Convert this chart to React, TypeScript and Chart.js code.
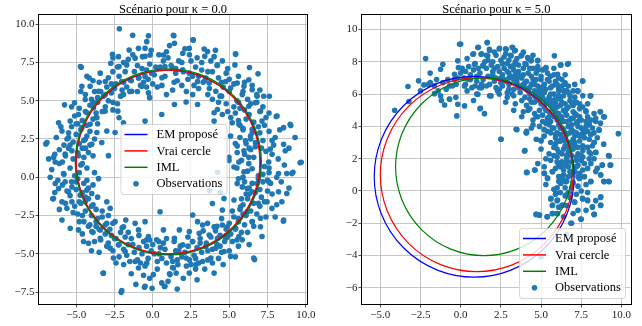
import React, { useEffect, useRef } from "react";
import { Chart, registerables } from "chart.js";
Chart.register(...registerables);

// ---------- data ----------
const seriesLabels = ["EM proposé", "Vrai cercle", "IML", "Observations"];
const lineColors = ["#0000ff", "#ff0000", "#008000"];
const pointColor = "#1f77b4";

const titleK0 = "Scénario pour κ = 0.0";
const titleK5 = "Scénario pour κ = 5.0";

// circles [cx, cy, r] : EM proposé, Vrai cercle, IML
const circlesK0 = [
  [1.02, 0.98, 6.02],
  [1.0, 1.0, 6.0],
  [1.02, 1.0, 6.08],
];
const circlesK5 = [
  [0.84, 0.88, 6.22],
  [1.0, 1.0, 6.0],
  [1.45, 1.5, 5.5],
];

const xTicksK0 = [-5, -2.5, 0, 2.5, 5, 7.5, 10];
const yTicksK0 = [-7.5, -5, -2.5, 0, 2.5, 5, 7.5, 10];
const xTicksK5 = [-5, -2.5, 0, 2.5, 5, 7.5, 10];
const yTicksK5 = [-6, -4, -2, 0, 2, 4, 6, 8, 10];

const xRangeK0 = [-7.43, 10.08];
const yRangeK0 = [-8.28, 10.6];
const xRangeK5 = [-6.14, 10.58];
const yRangeK5 = [-7.0, 10.9];

const obsK0: number[][] = [
  [-2.18,9.7],[1.35,9.28],[2.63,8.98],[-1.31,9.28],[-4.72,7.24],[-5.76,4.73],[-6.98,2.18],[9.7,0.98],[9.02,3.38],[8.07,3.97],[5.41,8.07],
  [-6.53,-1.41],[-2.06,-7.52],[-0.54,-7.19],[-0.04,-7.25],[0.76,-7.14],[-3.24,-6.27],[6.65,-5.38],[8.54,-2.87],[9.16,0.33],
  [-0.39,8.86],[-0.28,9.24],[-1.54,8.31],[-0.93,8.42],[-0.5,8.42],[-2.63,8.03],[-2.24,7.88],[-2.74,7.45],[-2.2,7.24],[-1.7,7.34],[-1.15,7.78],[-0.67,7.88],[-0.17,7.99],[0.7,7.99],[0.37,7.13],[0.8,7.24],[-4.67,7.19],[-4.15,6.48],[-3.43,6.8],[-3.1,6.26],[-4.63,5.94],[-4.09,5.94],[-3.54,5.62],[-3.22,5.29],[-2.57,6.05],[-2.02,6.26],[-1.48,6.37],[-0.93,6.48],[-0.5,6.59],[-0.07,6.8],[-0.72,5.94],[-1.37,5.62],[-0.28,5.51],[-1.91,5.4],[-5.11,4.86],[-4.41,5.08],[-3.87,4.54],[-4.85,4.1],[-4.3,4.21],[-3.65,3.89],[-3.11,4.32],[-2.28,4.32],[-2.2,3.89],[-1.91,3.56],[-0.5,3.67],[0.59,4.1],[-6.15,3.56],[-5.39,3.67],[-4.63,3.24],[-4.09,3.46],[-3.65,2.92],[-3.0,3.02],[-2.46,2.92],[-6.91,2.27],[-5.93,3.02],[-5.5,2.59],[-4.41,2.48],[-3.98,2.16],[-3.33,2.27],[-6.48,1.3],[-5.72,1.51],[-5.28,1.73],[-4.85,1.41],[-4.2,1.62],[-2.89,1.41],
  [1.38,9.24],[2.65,8.96],[1.42,8.75],[2.39,8.42],[3.36,8.38],[3.58,8.21],[4.01,7.88],[5.42,8.03],[4.55,7.6],[4.23,7.34],[5.37,7.34],[6.32,7.17],[6.88,6.76],[1.31,7.13],[1.96,8.1],[1.96,7.02],[2.39,6.8],[2.93,6.26],[3.47,6.48],[3.69,6.16],[4.12,5.62],[4.77,6.26],[5.09,5.83],[5.52,6.16],[5.96,5.94],[6.28,6.37],[5.85,5.4],[6.5,5.72],[6.82,5.29],[7.25,5.29],[7.62,5.29],[6.71,4.86],[6.28,4.64],[7.04,4.32],[8.12,4.0],[7.14,3.67],[8.98,3.46],[8.55,3.24],[6.5,3.13],[5.63,3.46],[5.2,3.56],[4.01,3.67],[4.01,4.21],[4.23,4.43],[4.55,4.1],[2.93,4.75],[2.18,4.92],[2.61,5.4],[1.42,4.75],[6.39,2.7],[6.06,2.38],[6.71,2.27],[5.09,2.7],[5.52,2.05],[5.52,1.62],[5.96,1.73],[8.55,2.16],[8.66,1.73],[7.68,1.84],[4.98,1.3],[6.28,1.3],
  [-6.37,1.0],[-5.83,0.24],[-6.37,-0.41],[-6.15,-0.74],[-5.72,-0.3],[-5.28,-0.63],[-5.5,-0.95],[-6.48,-1.39],[-5.93,-1.6],[-5.61,-2.03],[-5.28,-1.6],[-4.74,-1.17],[-4.3,-0.84],[-4.41,-1.6],[-3.98,-1.06],[-3.54,-0.09],[-3.0,-1.6],[-2.78,-2.03],[-5.93,-2.79],[-5.39,-3.33],[-4.85,-3.44],[-4.52,-4.2],[-4.2,-4.31],[-3.98,-3.55],[-3.43,-3.44],[-3.43,-3.98],[-3.11,-3.12],[-2.46,-2.9],[-1.91,-3.23],[-1.76,-2.79],[-1.15,-3.01],[-0.5,-2.9],[-0.93,-3.44],[-2.24,-4.42],[-2.78,-4.63],[-2.57,-5.28],[-3.22,-6.26],[-1.8,-4.85],[-1.15,-5.5],[-0.93,-5.93],[-0.39,-5.61],[-0.5,-7.12],[-2.02,-7.4],[0.48,-2.25],[0.59,-6.9],[0.8,-7.12],[1.13,-6.36],[1.35,-5.93],[0.04,-6.36],[-0.39,-4.09],[0.26,-4.09],[-0.28,-3.87],[0.7,-3.44],
  [4.98,1.1],[5.31,0.67],[5.63,1.0],[5.96,0.35],[6.28,0.89],[6.5,0.56],[7.58,1.0],[8.22,0.24],[8.76,0.24],[9.09,0.24],[9.63,0.95],[5.52,-0.41],[5.85,-0.63],[6.17,-0.74],[6.5,-0.95],[6.82,-0.41],[7.58,-0.3],[8.22,-0.95],[8.76,-1.06],[7.47,-1.6],[8.44,-1.6],[7.79,-2.03],[8.55,-2.79],[7.04,-2.68],[7.04,-3.23],[7.14,-3.87],[6.5,-2.9],[6.17,-2.25],[5.74,-1.93],[5.31,-1.49],[4.66,-1.39],[4.55,-2.14],[3.9,-1.71],[2.61,-2.47],[2.93,-2.9],[3.26,-3.12],[3.58,-3.01],[4.01,-3.23],[4.55,-3.12],[4.88,-3.23],[5.42,-3.33],[5.63,-3.87],[5.85,-4.09],[5.2,-4.2],[4.77,-3.98],[4.23,-3.98],[3.69,-3.77],[3.04,-3.66],[2.39,-3.55],[1.74,-3.44],[1.42,-3.98],[1.96,-4.42],[2.61,-4.2],[3.47,-4.52],[4.12,-4.63],[4.66,-4.85],[5.09,-5.17],[6.6,-5.28],[3.8,-5.28],[3.26,-5.5],[2.82,-5.71],[2.39,-6.26],[4.01,-6.26],[1.64,-5.71],[1.53,-6.26],[2.18,-5.28],
  [4.24,0.33],[3.71,-0.87],[4.41,-0.98],
  [6.2,0.4],[6.6,1.3],[7.3,0.7],[7.8,1.5],[5.8,1.1],[6.9,0.1],[7.5,-0.2],[8.2,1.2],[6.4,1.8],[7.1,1.9],[5.5,0.6],[8.6,0.8],
  [6.1,2.2],[6.5,2.9],[7.2,2.4],[7.6,3.0],[5.7,2.6],[6.9,3.3],[8.0,2.6],[6.3,1.9],[7.4,1.7],[5.9,3.1],
  [5.6,3.7],[6.0,4.4],[6.6,3.6],[7.0,4.3],[5.4,4.2],[6.4,4.8],[7.4,3.9],[5.9,3.2],[6.8,4.9],[5.1,3.9],
  [4.8,4.8],[5.5,5.0],[5.0,5.6],[5.9,5.6],[4.5,5.3],[5.3,6.1],[6.2,5.1],[4.9,4.3],[5.7,4.5],[6.0,6.2],
  [3.7,5.8],[4.3,6.5],[3.9,6.9],[4.6,5.9],[3.4,6.3],[4.2,7.3],[4.8,6.8],[3.6,5.4],[4.4,5.3],[3.2,7.0],
  [2.3,6.4],[2.8,7.2],[2.5,7.6],[3.0,6.6],[2.0,6.9],[2.7,6.0],[3.2,7.5],[1.9,7.5],[2.4,8.0],[3.3,6.2],
  [0.8,6.6],[1.2,7.3],[1.5,6.8],[0.5,7.2],[1.0,7.8],[1.4,6.2],[0.6,6.0],[1.7,7.6],[0.9,8.2],[1.3,5.7],
  [-0.3,6.4],[-0.7,7.1],[-0.2,7.4],[-0.9,6.5],[-0.5,7.9],[0.1,6.7],[-1.0,7.3],[-0.4,5.9],[0.2,7.2],[-0.8,6.0],
  [-1.7,5.9],[-2.2,6.6],[-1.8,6.9],[-2.5,5.8],[-1.4,6.3],[-2.1,5.3],[-2.6,6.9],[-1.5,5.6],[-1.9,7.5],[-2.4,6.1],
  [-2.9,5.0],[-3.4,5.6],[-3.0,5.9],[-3.6,4.9],[-2.7,5.5],[-3.8,5.6],[-3.1,4.6],[-2.6,4.9],[-3.5,6.2],[-4.0,5.1],
  [-3.9,3.8],[-4.4,4.3],[-4.1,4.7],[-4.6,3.7],[-3.7,4.2],[-4.8,4.5],[-3.6,3.5],[-4.3,3.4],[-5.1,4.0],[-3.9,4.9],
  [-4.5,2.4],[-5.0,2.8],[-4.7,3.1],[-5.2,2.3],[-4.3,2.7],[-5.5,2.9],[-4.6,1.9],[-5.3,3.3],[-4.1,2.1],[-5.8,2.1],
  [-4.7,0.8],[-5.2,1.2],[-4.9,1.6],[-5.4,0.6],[-4.5,1.3],[-5.7,1.4],[-4.8,0.3],[-5.5,1.9],[-4.3,0.6],[-6.1,0.9],[-5.1,0.1],[-6.4,1.5],
  [-4.5,-0.4],[-5.0,-0.8],[-4.6,-1.0],[-5.3,-0.3],[-4.2,-0.7],[-5.6,-0.9],[-4.9,-0.1],[-5.8,0.2],[-4.4,-1.3],[-6.2,-0.2],
  [-3.9,-1.8],[-4.4,-2.2],[-4.0,-2.5],[-4.7,-1.7],[-3.7,-2.1],[-4.9,-2.4],[-4.2,-1.4],[-3.6,-2.7],[-5.1,-1.9],[-4.5,-2.9],
  [-3.0,-3.0],[-3.5,-3.4],[-3.1,-3.7],[-3.7,-2.9],[-2.8,-3.4],[-3.9,-3.6],[-3.3,-2.6],[-2.7,-3.8],[-4.1,-3.1],[-3.4,-4.1],
  [-1.8,-3.9],[-2.2,-4.4],[-1.9,-4.7],[-2.5,-4.0],[-1.6,-4.4],[-2.6,-4.8],[-2.1,-3.6],[-1.4,-4.0],[-2.9,-4.3],[-1.7,-5.1],
  [-0.4,-4.5],[-0.7,-5.0],[-0.3,-5.3],[-0.9,-4.6],[-0.1,-4.8],[-1.0,-5.4],[-0.6,-4.2],[0.0,-4.4],[-1.2,-4.9],[-0.5,-5.8],
  [0.8,-4.7],[1.2,-5.2],[0.9,-5.6],[1.5,-4.8],[0.4,-5.0],[1.3,-5.9],[0.7,-4.3],[1.6,-5.4],[0.3,-5.5],[1.1,-6.3],[0.5,-4.6],[1.8,-4.5],
  [2.3,-4.5],[2.7,-5.1],[2.4,-5.4],[2.9,-4.6],[2.1,-4.9],[3.0,-5.6],[2.6,-4.2],[3.2,-4.9],[2.2,-5.8],[2.8,-6.0],
  [3.8,-3.9],[4.2,-4.4],[3.9,-4.7],[4.4,-3.8],[3.5,-4.3],[4.5,-4.9],[4.1,-3.5],[3.6,-4.8],[4.7,-4.2],[4.3,-5.3],
  [5.0,-3.0],[5.4,-3.4],[5.1,-3.7],[5.6,-2.9],[4.8,-3.4],[5.8,-3.6],[5.3,-2.6],[4.9,-3.9],[6.0,-3.1],[5.5,-4.1],
  [5.9,-1.8],[6.4,-2.2],[6.1,-2.5],[6.6,-1.7],[5.7,-2.1],[6.8,-2.4],[6.2,-1.4],[5.6,-2.7],[7.0,-1.9],[6.5,-2.9],
  [6.5,-0.4],[7.0,-0.8],[6.7,-1.0],[7.2,-0.3],[6.3,-0.7],[7.5,-0.9],[6.9,-0.1],[6.1,-1.1],[7.7,-0.4],[7.1,-1.3],
  [7.9,2.1],[8.3,3.1],[7.0,2.9],[6.0,1.5],[7.6,0.3],[8.9,1.9],[5.4,2.2],[6.7,2.0],[7.3,3.4],[8.1,0.0],[5.9,0.0],[6.4,2.5],[7.8,2.4],[5.7,3.4],[9.3,2.6],
  [6.8,5.4],[7.2,4.6],[5.6,4.9],[6.1,3.8],[5.0,6.4],[4.3,4.9],[6.5,6.0],[7.6,4.2],[4.9,7.1],[5.6,6.6],[5.3,4.6],[3.9,5.1],[7.0,5.7],[6.3,4.1],[4.5,6.2],
  [3.4,7.9],[2.1,8.4],[3.0,5.8],[1.6,6.3],[2.6,6.6],[3.8,7.6],[1.1,8.6],[1.9,6.0],[2.9,7.8],[0.7,7.6],[3.6,6.9],[2.2,5.6],[1.5,7.1],[4.1,8.3],[0.9,5.4],
  [-0.1,8.3],[-1.2,6.9],[-0.6,6.2],[0.3,5.9],[-1.6,7.7],[-0.4,7.0],[0.4,8.0],[-2.3,7.2],[-1.0,5.6],[0.0,6.1],[-1.9,6.2],[-0.2,5.2],[-1.3,8.0],[-2.6,7.8],[0.6,6.5],
  [-2.9,6.5],[-3.3,4.3],[-2.3,4.8],[-3.9,6.3],[-4.4,5.4],[-2.7,6.1],[-3.6,5.2],[-4.3,6.6],[-2.0,5.7],[-3.1,5.4],[-4.7,5.6],[-2.6,4.4],[-3.7,3.9],[-4.9,3.5],[-5.3,4.6],
  [-5.6,2.5],[-6.0,3.3],[-4.4,1.9],[-5.0,3.5],[-6.3,2.6],[-4.1,3.0],[-5.9,1.0],[-4.6,0.9],[-6.6,0.5],[-3.9,1.4],[-5.4,2.1],[-6.1,1.8],[-4.8,2.2],[-3.8,2.5],[-6.8,1.2],
  [-5.0,-0.3],[-5.9,-0.5],[-4.3,-0.2],[-6.4,-1.0],[-4.8,-1.6],[-5.4,-1.2],[-3.9,-0.5],[-6.7,0.0],[-4.0,-1.9],[-5.7,-1.7],[-3.8,0.3],[-5.2,-2.3],[-6.1,-2.1],[-4.6,-2.5],[-3.6,-1.3],
  [-3.3,-2.2],[-4.2,-3.2],[-2.6,-3.0],[-3.8,-4.2],[-2.4,-4.0],[-3.0,-4.5],[-4.6,-3.7],[-2.9,-2.5],[-3.7,-3.2],[-2.0,-3.3],[-3.5,-4.9],[-4.8,-2.9],[-2.2,-5.2],[-4.0,-4.8],[-1.6,-3.6],
  [-1.3,-4.4],[-0.8,-5.6],[-1.5,-5.5],[-0.2,-4.1],[0.3,-6.0],[-0.9,-3.8],[-0.2,-6.6],[-1.9,-5.7],[0.6,-5.3],[-0.6,-6.4],[0.1,-5.0],[-1.4,-6.3],[0.4,-4.2],[-2.4,-5.6],[-1.1,-7.0],
  [1.4,-4.2],[1.9,-5.2],[2.5,-5.7],[1.0,-6.8],[2.0,-6.6],[3.1,-4.3],[1.7,-4.8],[2.8,-5.3],[1.3,-5.5],[3.4,-6.0],[2.3,-3.9],[0.9,-4.0],[3.6,-5.4],[2.9,-6.7],[1.6,-7.3],
  [4.4,-4.5],[3.9,-5.6],[4.8,-3.8],[5.0,-4.8],[4.2,-3.2],[5.6,-4.5],[3.3,-3.5],[4.6,-5.7],[5.9,-2.4],[5.2,-2.2],[4.5,-2.7],[6.2,-3.6],[5.4,-5.2],[3.1,-4.0],[6.3,-4.4],
  [6.3,-1.1],[7.3,-1.6],[7.8,-1.1],[6.0,-0.3],[7.4,-2.6],[5.8,-1.4],[8.1,-1.8],[6.9,-1.7],[8.4,-0.3],[7.6,0.6],[5.6,-0.1],[6.6,-3.2],[8.0,-2.6],[7.2,0.2],[8.9,-0.7],
];

const obsK5: number[][] = [
  [-0.07,9.09],[-2.18,8.2],[-1.11,7.85],[-1.25,7.54],[-0.18,8.06],[-0.14,7.64],[-0.38,7.23],[-2.62,6.82],[-3.28,6.47],[-2.29,6.57],[-1.89,6.71],[-1.63,6.51],[-1.11,6.71],[-0.69,6.51],[-0.28,6.61],[0.24,6.51],[0.45,6.92],[-1.25,5.89],[-0.69,5.68],[-1.0,5.33],[-0.18,5.37],[0.24,5.27],[-0.24,4.65],[1.23,5.12],[1.48,4.79],[-4.11,5.0],[-3.22,5.54],[-1.63,6.03],[1.07,5.99],[1.17,6.4],[1.89,5.89],[0.76,8.47],[1.07,8.88],[1.27,8.47],[1.65,9.19],[1.79,8.78],[1.69,8.37],[0.86,7.85],[1.38,7.75],
  [2.42,8.84],[2.83,8.78],[3.24,8.88],[3.35,8.68],[3.14,8.37],[3.76,8.37],[4.17,8.26],[4.07,7.85],[4.38,8.06],[4.79,8.06],[5.31,7.64],[5.83,8.37],[6.24,7.81],[6.65,7.85],[6.03,7.23],[6.45,6.61],[6.55,6.2],[7.27,6.2],[7.58,6.82],[8.06,5.89],[7.17,5.47],[7.79,4.96],[8.68,4.9],[8.93,4.59],[8.62,3.76],[8.0,4.13],[8.1,3.51],[9.81,3.55],[8.31,3.0],[2.52,3.2],[3.45,3.82],[4.07,3.61],[3.97,2.48],[5.0,3.14],[6.03,3.1],[6.76,2.27],[7.89,2.69],[8.41,2.38],[9.24,2.17],
  [4.13,1.15],[4.63,1.3],[5.21,1.09],[5.41,0.78],[5.72,1.19],[6.14,0.88],[6.24,0.47],[6.55,0.57],[7.07,1.19],[7.38,0.78],[7.69,0.88],[8.1,0.57],[8.72,0.99],[8.93,0.57],[9.24,0.57],[8.82,1.61],[9.34,1.61],[5.93,-0.15],[5.62,-0.46],[6.03,-0.56],[5.72,-0.87],[6.34,-0.87],[6.55,-0.25],[7.58,-0.46],[7.89,-0.56],[8.72,-0.36],[8.72,-0.87],[8.2,-0.98],[7.07,-0.67],[4.69,-1.45],[4.9,-1.49],[5.37,-1.6],[5.72,-1.39],[6.03,-1.39],[7.48,-1.74],[8.31,-1.45],[6.86,-2.0],[5.0,-4.07],[6.6,-2.7],
  [0.0,9.1],[1.65,9.2],[1.1,8.9],
  [0.8,8.5],[1.3,8.5],[1.8,8.7],[2.4,8.8],[2.8,8.8],[3.2,8.9],[3.4,8.7],[3.1,8.4],[2.2,8.4],
  [0.9,7.9],[1.4,7.8],[1.7,8.1],[2.0,8.0],[2.5,8.1],[2.9,7.9],[3.4,8.0],[3.8,8.4],[4.2,8.2],[4.4,8.1],[4.8,8.1],[2.3,7.7],[3.1,7.7],
  [0.3,7.4],[0.8,7.5],[1.2,7.3],[1.6,7.6],[2.0,7.4],[2.4,7.4],[2.7,7.6],[3.0,7.3],[3.3,7.5],[3.6,7.4],[3.9,7.6],[4.2,7.3],[4.5,7.6],[4.8,7.5],[5.3,7.6],[6.2,7.8],[6.7,7.9],
  [0.2,7.0],[0.6,6.9],[1.0,7.1],[1.4,6.9],[1.7,7.1],[2.1,6.8],[2.5,7.0],[2.8,6.8],[3.1,7.1],[3.5,6.9],[3.8,7.0],[4.1,6.8],[4.4,7.1],[4.7,6.9],[5.0,7.1],[5.4,6.9],[5.8,7.2],[6.1,7.0],[6.5,6.7],
  [-0.5,6.5],[0.3,6.6],[0.9,6.5],[1.3,6.4],[1.8,6.6],[2.2,6.4],[2.6,6.5],[3.0,6.6],[3.3,6.3],[3.7,6.5],[4.0,6.7],[4.3,6.4],[4.6,6.6],[4.9,6.3],[5.2,6.6],[5.6,6.4],[5.9,6.6],[6.3,6.5],[6.6,6.2],[7.3,6.2],[7.6,6.8],
  [1.0,6.0],[1.8,5.9],[2.4,6.0],[2.9,6.1],[3.3,5.9],[3.7,6.1],[4.0,5.8],[4.3,6.0],[4.6,6.2],[4.9,5.9],[5.2,6.1],[5.5,5.8],[5.8,6.0],[6.1,6.2],[6.4,5.9],[6.7,6.1],[7.1,5.8],[8.1,5.9],
  [1.2,5.1],[2.8,5.5],[3.4,5.4],[3.8,5.6],[4.1,5.3],[4.4,5.5],[4.7,5.7],[5.0,5.4],[5.3,5.6],[5.6,5.3],[5.9,5.5],[6.2,5.7],[6.5,5.4],[6.8,5.6],[7.2,5.5],[7.6,5.2],
  [3.9,4.9],[4.3,5.1],[4.6,4.8],[4.9,5.0],[5.2,5.2],[5.5,4.9],[5.8,5.1],[6.1,4.8],[6.4,5.0],[6.7,5.2],[7.0,4.9],[7.4,5.1],[7.8,4.9],[8.7,4.9],
  [4.5,4.4],[4.8,4.6],[5.1,4.3],[5.4,4.5],[5.7,4.7],[6.0,4.4],[6.3,4.6],[6.6,4.3],[6.9,4.5],[7.2,4.7],[7.5,4.4],[7.9,4.6],[8.9,4.6],[8.0,4.1],
  [4.1,3.7],[4.9,4.0],[5.2,3.8],[5.5,4.1],[5.8,3.9],[6.1,4.1],[6.4,3.8],[6.7,4.0],[7.0,3.7],[7.3,4.0],[7.6,3.8],[8.6,3.8],
  [3.5,3.8],[4.1,3.6],[5.2,3.4],[5.6,3.6],[5.9,3.3],[6.2,3.5],[6.5,3.3],[6.8,3.6],[7.1,3.4],[7.5,3.5],[8.1,3.5],
  [2.5,3.2],[5.0,3.1],[5.9,2.9],[6.2,3.1],[6.5,2.8],[6.8,3.0],[7.1,2.8],[7.4,3.1],[6.0,3.1],[8.3,3.0],
  [4.0,2.5],[6.1,2.4],[6.4,2.6],[6.7,2.4],[7.0,2.6],[7.3,2.3],[7.9,2.7],[8.4,2.4],[6.8,2.3],[9.2,2.2],
  [5.6,1.9],[6.0,2.1],[6.3,1.8],[6.6,2.0],[6.9,1.8],[7.2,2.1],[7.5,1.9],[8.0,2.0],[8.8,1.6],[9.3,1.6],
  [5.2,1.5],[5.7,1.2],[6.1,1.6],[6.4,1.3],[6.7,1.5],[7.0,1.2],[7.3,1.6],[7.7,0.9],[4.6,1.3],[4.1,1.15],
  [5.2,1.1],[5.4,0.8],[6.1,0.9],[6.2,0.5],[6.6,0.6],[6.9,1.0],[7.1,1.2],[7.4,0.8],[8.1,0.6],[8.7,1.0],[8.9,0.6],[9.2,0.6],
  [5.9,-0.2],[5.6,-0.5],[6.0,-0.6],[6.5,-0.3],[7.1,-0.7],[7.6,-0.5],[7.9,-0.6],[8.7,-0.4],[8.7,-0.9],[8.2,-1.0],[5.7,-0.9],[6.3,-0.9],
  [4.7,-1.45],[4.9,-1.5],[5.4,-1.6],[5.7,-1.4],[6.0,-1.4],[7.5,-1.75],[8.3,-1.45],[6.9,-2.0],
  [3.0,6.3],[3.5,6.7],[4.2,6.2],[4.8,6.5],[5.1,5.8],[5.7,5.6],[6.0,5.2],[6.3,4.4],[6.6,4.7],[6.9,4.1],[7.2,3.6],[6.3,3.3],[5.6,4.3],[5.3,5.0],[4.6,5.5],[4.0,6.4],[3.3,6.9],[2.6,7.2],[2.0,7.2],[5.8,4.6],[6.2,3.9],[6.5,3.6],[7.0,3.2],[6.9,2.6],[6.6,2.2],[7.2,1.5],[6.4,1.0],[5.9,1.4],[5.5,2.3],[5.8,2.7],[7.6,2.8],[7.7,3.3],[7.8,4.3],[7.4,4.6],[7.0,5.3],[6.8,5.9],[6.1,6.4],[5.5,6.8],[5.0,6.4],[4.5,6.9],[3.9,7.2],[3.6,7.8],[2.7,8.3],[3.0,7.0],[4.7,7.3],[5.1,7.5],[5.6,7.1],[5.9,6.8],[6.4,6.2],[7.1,6.6],[7.9,5.4],[8.3,4.8],[8.4,4.3],[8.2,3.9],[7.9,3.7],[8.5,3.3],[8.9,2.9],[8.1,2.3],[7.6,2.1],[7.9,1.4],[8.4,1.2],[6.0,0.2],[6.7,-0.1],[7.3,0.3],[5.3,0.4],[4.8,1.7],[5.3,2.0],[5.0,2.6],[4.7,3.2],[4.4,3.9],[3.8,4.6],[3.3,5.0],[2.9,5.8],[2.3,6.2],[1.6,6.5],[1.0,6.8],[0.5,7.7],[-0.2,7.0],[-0.8,6.9],[-1.4,6.2],[-2.0,6.6],[-0.7,5.7],
  [0.6,7.2],[1.1,7.6],[1.5,8.0],[0.4,8.2],[1.9,7.8],[0.1,7.6],[1.3,6.6],[2.1,8.6],[0.7,6.4],[1.6,8.4],
  [2.2,7.0],[2.5,6.7],[2.9,7.4],[3.3,7.8],[2.6,7.9],[3.7,7.1],[3.9,6.6],[2.4,6.3],[3.2,6.0],[3.5,8.2],[2.8,8.5],[4.0,7.9],[3.6,6.4],[2.1,7.6],[3.0,8.1],[4.3,7.6],[3.4,7.2],[2.7,6.9],[3.9,8.6],[4.5,8.4],
  [4.4,6.6],[4.7,6.1],[5.0,6.9],[5.3,6.3],[5.6,6.0],[5.9,5.7],[4.9,5.6],[5.2,5.3],[5.5,5.5],[5.8,5.3],[6.1,5.9],[6.3,5.5],[4.6,5.9],[4.3,5.7],[5.0,6.1],[5.7,6.5],[6.0,6.6],[5.4,7.3],[4.8,7.7],[5.8,7.6],[6.5,7.2],[6.3,6.9],[4.2,5.0],[4.7,4.6],[5.1,4.7],[5.5,4.6],[5.9,4.9],[6.2,5.3],[6.6,5.1],[6.9,5.5],[4.5,4.1],[5.3,4.2],[6.1,4.5],[6.5,4.9],[6.8,4.4],[7.1,4.8],[7.4,5.4],[7.6,5.9],[7.0,6.2],[6.7,6.5],
  [5.7,3.9],[6.0,3.6],[6.3,3.9],[6.6,3.5],[6.9,3.8],[7.2,4.2],[7.5,3.9],[5.9,3.5],[6.2,3.1],[6.5,3.1],[6.8,2.9],[7.1,3.0],[7.4,3.4],[7.7,3.6],[8.0,3.2],[8.3,3.6],[7.0,4.5],[7.3,4.3],[6.4,4.3],[5.4,3.7],[6.7,2.7],[7.3,2.7],[7.6,2.5],[8.2,2.8],[5.6,3.0],[6.0,2.6],[7.8,4.0],[8.4,4.5],[8.7,4.2],[8.1,4.4],
  [6.3,2.3],[6.6,1.8],[6.9,2.2],[7.2,1.9],[7.5,2.2],[6.2,1.5],[6.5,1.6],[6.8,1.2],[7.1,1.5],[7.4,1.1],[7.7,1.7],[8.1,1.7],[6.0,1.8],[6.4,0.7],[6.7,0.9],[7.0,0.5],[7.3,0.9],[7.8,0.4],[8.3,2.0],[5.8,2.2],[6.1,0.6],[6.9,0.2],[7.6,1.3],[8.5,1.4],[8.0,2.4],
  [6.2,-0.1],[6.5,0.2],[6.8,-0.4],[7.2,-0.2],[7.5,0.0],[6.1,-1.0],[6.6,-0.9],[7.3,-1.2],[5.8,0.1],[7.9,-0.1],[8.4,-0.6],[6.4,-1.6],[7.0,-1.4],[7.8,-1.2],
  [-0.4,6.9],[-0.9,6.3],[-1.5,6.9],[0.4,6.2],[-0.3,5.8],[0.8,5.6],[-1.2,5.6],[0.0,7.3],[-2.5,6.2],[-1.9,7.3],
];

// ---------- plugins ----------
const FONT = '"Liberation Serif", "Times New Roman", serif';

const circlePlugin = {
  id: "circles",
  afterDatasetsDraw(chart: any, _a: any, opts: any) {
    const { ctx, chartArea, scales } = chart;
    const x = scales.x, y = scales.y;
    ctx.save();
    ctx.beginPath();
    ctx.rect(chartArea.left, chartArea.top, chartArea.width, chartArea.height);
    ctx.clip();
    (opts.circles || []).forEach((c: number[], i: number) => {
      const px = x.getPixelForValue(c[0]);
      const py = y.getPixelForValue(c[1]);
      const rx = Math.abs(x.getPixelForValue(c[0] + c[2]) - px);
      const ry = Math.abs(y.getPixelForValue(c[1] + c[2]) - py);
      ctx.beginPath();
      ctx.ellipse(px, py, rx, ry, 0, 0, Math.PI * 2);
      ctx.strokeStyle = lineColors[i];
      ctx.lineWidth = 1.2;
      ctx.stroke();
    });
    ctx.restore();
  },
};

const framePlugin = {
  id: "frame",
  afterDraw(chart: any, _a: any, opts: any) {
    const { ctx, chartArea } = chart;
    ctx.save();
    ctx.strokeStyle = "#000";
    ctx.lineWidth = 1;
    const l = Math.round(chartArea.left) - 0.5;
    const t = Math.round(chartArea.top) - 0.5;
    const r = Math.round(chartArea.right) + 0.5;
    const b = Math.round(chartArea.bottom) + 0.5;
    ctx.strokeRect(l, t, r - l, b - t);
    ctx.fillStyle = "#000";
    ctx.font = `12.5px ${FONT}`;
    ctx.textAlign = "center";
    ctx.textBaseline = "alphabetic";
    ctx.fillText(opts.text || "", (chartArea.left + chartArea.right) / 2, 12.5);
    ctx.restore();
  },
};

const legendPlugin = {
  id: "boxLegend",
  afterDraw(chart: any, _a: any, opts: any) {
    const { ctx, chartArea } = chart;
    const w = 106, h = 70;
    const x0 = opts.left !== undefined ? chartArea.left + opts.left : chartArea.right - opts.right - w;
    const y0 = opts.top !== undefined ? chartArea.top + opts.top : chartArea.bottom - opts.bottom - h;
    ctx.save();
    ctx.beginPath();
    ctx.roundRect(x0 + 0.5, y0 + 0.5, w, h, 3);
    ctx.fillStyle = "rgba(255,255,255,0.8)";
    ctx.fill();
    ctx.strokeStyle = "rgba(204,204,204,0.8)";
    ctx.lineWidth = 1;
    ctx.stroke();
    ctx.font = `12.5px ${FONT}`;
    ctx.textAlign = "left";
    ctx.textBaseline = "middle";
    seriesLabels.forEach((lab, i) => {
      const ry = y0 + 10.5 + i * 16.4;
      if (i < 3) {
        ctx.beginPath();
        ctx.moveTo(x0 + 4, ry);
        ctx.lineTo(x0 + 27, ry);
        ctx.strokeStyle = lineColors[i];
        ctx.lineWidth = 1.5;
        ctx.stroke();
      } else {
        ctx.beginPath();
        ctx.arc(x0 + 15.5, ry, 2.8, 0, Math.PI * 2);
        ctx.fillStyle = pointColor;
        ctx.fill();
      }
      ctx.fillStyle = "#000";
      ctx.fillText(lab, x0 + 36, ry + 0.5);
    });
    ctx.restore();
  },
};

const fmt = (v: number, dec: number) => v.toFixed(dec).replace("-", "\u2212");

function makeConfig(p: any) {
  const tickFont = { family: FONT, size: 11 };
  const grid = { color: "#b8b8b8", lineWidth: 0.8, tickLength: 3.5, tickColor: "#222", tickWidth: 0.8 };
  return {
    type: "scatter",
    data: {
      datasets: [
        {
          label: seriesLabels[3],
          data: p.obs.map((d: number[]) => ({ x: d[0], y: d[1] })),
          backgroundColor: pointColor,
          borderColor: pointColor,
          pointRadius: 2.8,
          pointBorderWidth: 0,
          pointHoverRadius: 2.8,
        },
      ],
    },
    options: {
      animation: false,
      responsive: false,
      events: [],
      layout: { padding: { top: 15, right: p.padRight, left: 0, bottom: 0 } },
      plugins: {
        legend: { display: false },
        tooltip: { enabled: false },
        title: { display: false },
        circles: { circles: p.circles },
        frame: { text: p.title },
        boxLegend: p.legend,
      },
      scales: {
        x: {
          type: "linear",
          min: p.xRange[0],
          max: p.xRange[1],
          afterBuildTicks: (s: any) => { s.ticks = p.xTicks.map((v: number) => ({ value: v })); },
          afterFit: (s: any) => { s.height = 22; },
          grid,
          border: { display: false },
          ticks: { font: tickFont, color: "#222", padding: 1, maxRotation: 0, autoSkip: false, callback: (v: number) => fmt(v, p.xDec) },
        },
        y: {
          type: "linear",
          min: p.yRange[0],
          max: p.yRange[1],
          afterBuildTicks: (s: any) => { s.ticks = p.yTicks.map((v: number) => ({ value: v })); },
          afterFit: (s: any) => { s.width = p.yWidth; },
          grid,
          border: { display: false },
          ticks: { font: tickFont, color: "#222", padding: 1, autoSkip: false, callback: (v: number) => fmt(v, p.yDec) },
        },
      },
    },
    plugins: [circlePlugin, framePlugin, legendPlugin],
  };
}

function Panel(props: any) {
  const ref = useRef<HTMLCanvasElement>(null);
  useEffect(() => {
    if (!ref.current) return;
    const chart = new Chart(ref.current, makeConfig(props) as any);
    return () => chart.destroy();
  }, []);
  return (
    <canvas
      ref={ref}
      width={props.width}
      height={326}
      style={{ position: "absolute", left: props.left, top: 0, width: props.width, height: 326 }}
    />
  );
}

export default function App() {
  return (
    <div style={{ position: "fixed", left: 0, top: 0, width: 642, height: 326, background: "#fff", overflow: "hidden" }}>
      <Panel
        left={0}
        width={321}
        padRight={14}
        yWidth={39}
        obs={obsK0}
        circles={circlesK0}
        title={titleK0}
        xTicks={xTicksK0}
        yTicks={yTicksK0}
        xRange={xRangeK0}
        yRange={yRangeK0}
        xDec={1}
        yDec={1}
        legend={{ left: 81.5, top: 109 }}
      />
      <Panel
        left={322}
        width={320}
        padRight={11.3}
        yWidth={40}
        obs={obsK5}
        circles={circlesK5}
        title={titleK5}
        xTicks={xTicksK5}
        yTicks={yTicksK5}
        xRange={xRangeK5}
        yRange={yRangeK5}
        xDec={1}
        yDec={0}
        legend={{ right: 5.7, bottom: 6 }}
      />
    </div>
  );
}
